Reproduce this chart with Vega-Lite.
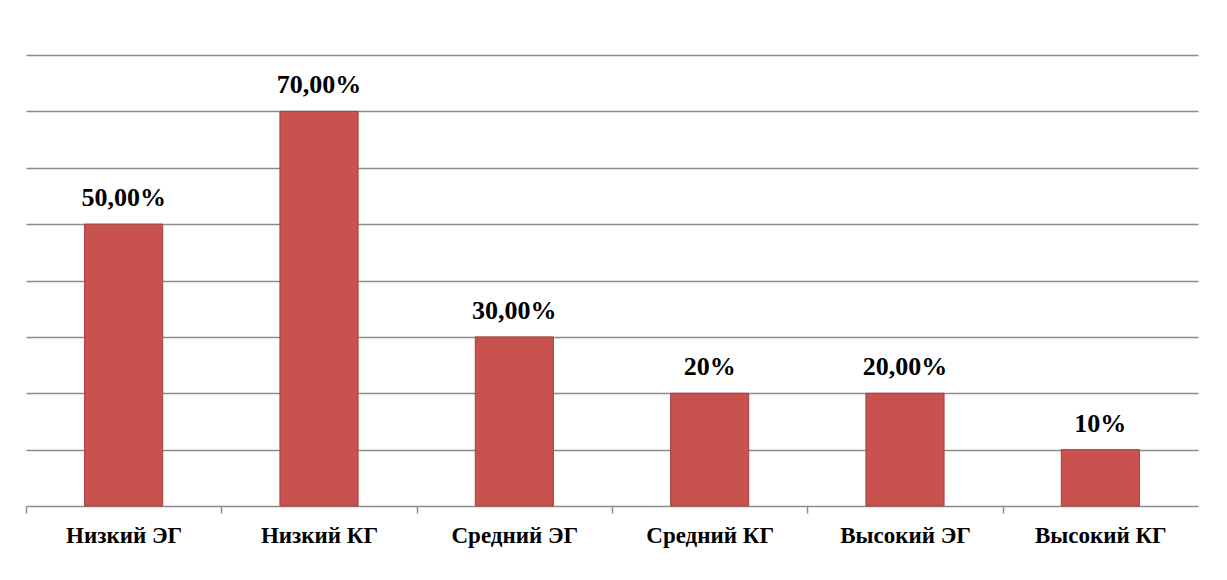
{
  "$schema": "https://vega.github.io/schema/vega-lite/v6.json",
  "autosize": {"type": "none"},
  "width": 1172,
  "height": 451,
  "padding": {"left": 26, "top": 55, "right": 29, "bottom": 74},
  "background": "white",
  "config": {"view": {"stroke": null}},
  "data": {"values": [
    {"cat": "Низкий ЭГ", "value": 0.5, "label": "50,00%"},
    {"cat": "Низкий КГ", "value": 0.7, "label": "70,00%"},
    {"cat": "Средний ЭГ", "value": 0.3, "label": "30,00%"},
    {"cat": "Средний КГ", "value": 0.2, "label": "20%"},
    {"cat": "Высокий ЭГ", "value": 0.2, "label": "20,00%"},
    {"cat": "Высокий КГ", "value": 0.1, "label": "10%"}
  ]},
  "encoding": {
    "x": {"field": "cat", "type": "nominal", "sort": null,
      "scale": {"paddingInner": 0.6, "paddingOuter": 0.3},
      "axis": {"title": null, "labelAngle": 0, "labelFont": "Liberation Serif", "labelFontWeight": "bold", "labelFontSize": 23, "labelColor": "black", "labelPadding": 11, "labelOffset": 97.67, "domainColor": "#8c8c8c", "domainWidth": 1.5, "ticks": true, "tickColor": "#8c8c8c", "tickSize": 7, "tickWidth": 1.5, "tickOpacity": 1, "tickOffset": -97.67, "tickExtra": true, "grid": false}},
    "y": {"field": "value", "type": "quantitative",
      "scale": {"domain": [0, 0.8], "nice": false},
      "axis": {"title": null, "labels": false, "ticks": false, "domain": false, "grid": true, "gridColor": "#8c8c8c", "gridWidth": 1.5, "values": [0.1, 0.2, 0.3, 0.4, 0.5, 0.6, 0.7, 0.8]}}
  },
  "layer": [
    {"mark": {"type": "bar", "fill": "#C9514E", "stroke": "#A4403E", "strokeWidth": 1}},
    {"mark": {"type": "text", "baseline": "alphabetic", "dy": -18, "font": "Liberation Serif", "fontWeight": "bold", "fontSize": 26, "color": "black"},
     "encoding": {"text": {"field": "label"}}}
  ]
}
